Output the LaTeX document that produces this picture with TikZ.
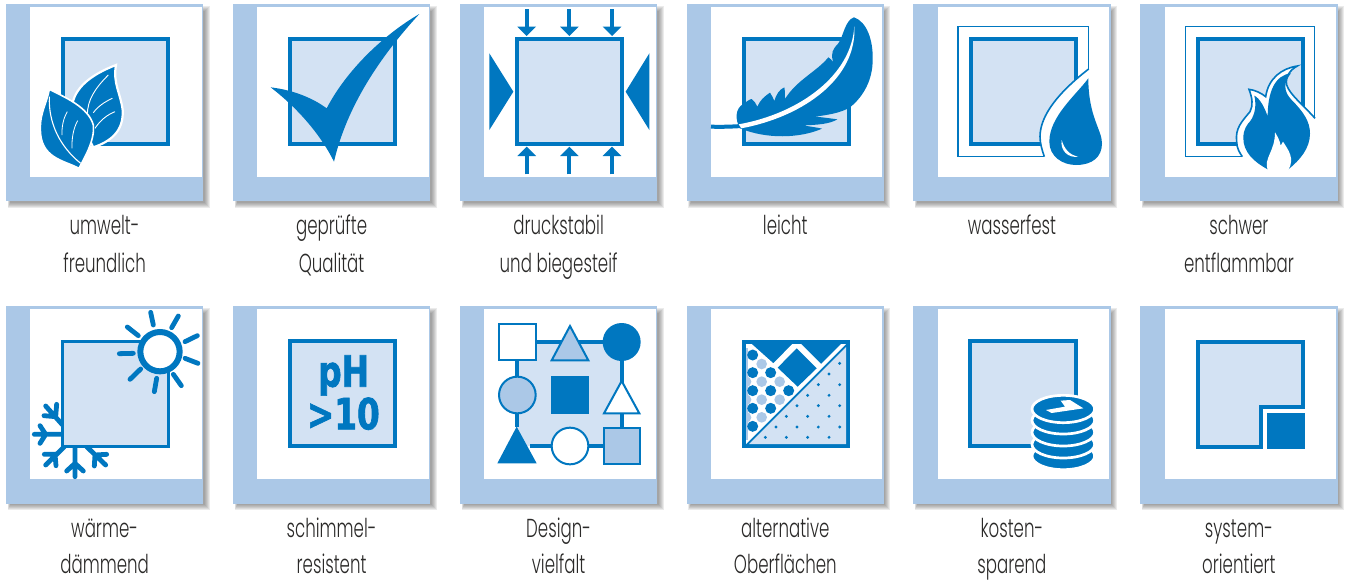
\documentclass[tikz,border=0pt]{standalone}
\usepackage{fontspec}
\newfontfamily\labfont[FakeStretch=0.64]{Poppins Light}
\newfontfamily\phfont[FakeStretch=0.76,FakeBold=1.6]{DejaVu Sans Bold}
\definecolor{ibl}{HTML}{0077C0}
\definecolor{lbl}{HTML}{D3E2F3}
\definecolor{mbl}{HTML}{ABC8E7}
\definecolor{txt}{HTML}{2B2A29}
\tikzset{
  crop/.style 2 args={shift={(#1,#2)},x=0.33333pt,y=-0.33333pt},
  lab/.style={font=\labfont\fontsize{26}{37.5}\selectfont,text=txt,inner sep=0pt,align=center,anchor=north},
  labb/.style={lab,font=\labfont\fontsize{26}{36}\selectfont},
  sqbox/.style={draw=ibl,fill=lbl,line width=4pt},
  ic/.style={fill=ibl,draw=none},
  wh/.style={fill=white,draw=none},
  ln/.style={draw=ibl,line width=#1},
  ray/.style={draw=ibl,line width=4.8pt,line cap=round},
  flake/.style={draw=ibl,line width=4.8pt,line cap=round},
}
\newcommand{\panelframe}[2]{%
  \foreach \s in {0,1,2,3,4,5}{
    \fill[black!70,opacity=0.11] (#1+4-\s*0.5,#2+7-\s) rectangle (#1+198.5+\s,#2+198.5+\s);
  }
  \fill[mbl] (#1,#2) rectangle (#1+197.3,#2+197.3);
  \fill[white] (#1+24.3,#2+2.5) rectangle (#1+195.6,#2+173);
}
\newcommand{\stdsq}[2]{\draw[sqbox] (#1+57,#2+35) rectangle (#1+162.4,#2+140);}
\newcommand{\lbl}[5]{\node[lab] (#1) at (#2+98.6,#3+210.5) {\rule{0pt}{20pt}#4\\#5};}
\newcommand{\lblb}[5]{\node[labb] (#1) at (#2+98.6,#3+211) {\rule{0pt}{20pt}#4\\#5};}
\begin{document}
\begin{tikzpicture}[x=1pt,y=-1pt]
\useasboundingbox (0,0) rectangle (1346,579);
\def\ra{4}\def\rb{306.3}
\def\xa{6}\def\xb{233}\def\xc{460}\def\xd{686.7}\def\xe{913.3}\def\xf{1140.3}
\foreach \px in {\xa,\xb,\xc,\xd,\xe,\xf}{\foreach \py in {\ra,\rb}{\panelframe{\px}{\py}}}
% labels
\lbl{l1}{\xa}{\ra}{umwelt-}{freundlich}
\lbl{l2}{\xb}{\ra}{geprüfte}{Qualität}
\lbl{l3}{\xc}{\ra}{druckstabil}{und biegesteif}
\lbl{l4}{\xd}{\ra}{leicht}{}
\lbl{l5}{\xe}{\ra}{wasserfest}{}
\lbl{l6}{\xf}{\ra}{schwer}{entflammbar}
\lblb{l7}{\xa}{\rb}{wärme-}{dämmend}
\lblb{l8}{\xb}{\rb}{schimmel-}{resistent}
\lblb{l9}{\xc}{\rb}{Design-}{vielfalt}
\lblb{l10}{\xd}{\rb}{alternative}{Oberflächen}
\lblb{l11}{\xe}{\rb}{kosten-}{sparend}
\lblb{l12}{\xf}{\rb}{system-}{orientiert}
% 1 leaves
\stdsq{\xa}{\ra}
\begin{scope}[crop={0}{0}]
\path[ic,draw=white,line width=2.2pt] (348,195) .. controls (270,225) and (222,265) .. (216,320) -- (280,442) .. controls (330,425) and (372,395) .. (368,330) .. controls (362,280) and (338,250) .. (348,195) -- cycle;
\draw[white,line width=0.9pt] (325,225) .. controls (285,265) and (262,300) .. (262,345);
\draw[white,line width=0.9pt] (337,295) .. controls (315,305) and (295,318) .. (280,338);
\draw[white,line width=0.9pt] (345,335) .. controls (320,345) and (300,362) .. (285,385);
\path[ic,draw=white,line width=1.6pt] (148,268) .. controls (190,290) and (265,320) .. (280,375) .. controls (285,420) and (255,470) .. (237,505) .. controls (190,480) and (120,475) .. (121,385) .. controls (120,340) and (140,310) .. (148,268) -- cycle;
\draw[white,line width=1.1pt] (148,290) .. controls (145,370) and (180,440) .. (242,490);
\draw[white,line width=0.8pt] (202,335) .. controls (190,355) and (185,380) .. (186,405);
\draw[white,line width=0.8pt] (233,362) .. controls (220,385) and (215,415) .. (216,445);
\end{scope}
% 2 check
\stdsq{\xb}{\ra}
\begin{scope}[crop={0}{0}]
\path[ic] (812,262) .. controls (880,270) and (940,295) .. (980,325) .. controls (1040,210) and (1150,105) .. (1258,42) .. controls (1140,170) and (1040,320) .. (1002,485) .. controls (965,410) and (900,330) .. (812,262) -- cycle;
\end{scope}
% 3 pressure
\stdsq{\xc}{\ra}
\begin{scope}[crop={450}{0}]
\foreach \ax in {230,358,486}{
  \draw[ln=4pt] (\ax,27) -- (\ax,85);
  \path[ic] (\ax-28,80) -- (\ax+28,80) -- (\ax,108) -- cycle;
  \draw[ln=4pt] (\ax,523) -- (\ax,465);
  \path[ic] (\ax-28,468) -- (\ax+28,468) -- (\ax,440) -- cycle;
}
\path[ic] (118,160) -- (118,390) -- (190,275) -- cycle;
\path[ic] (598,160) -- (598,390) -- (527,275) -- cycle;
\end{scope}
% 4 feather
\stdsq{\xd}{\ra}
\begin{scope}[crop={450}{0}]
\draw[ln=4pt] (783,380) .. controls (815,381) and (845,380) .. (875,378);
\path[ic] (870,385) .. controls (855,360) and (855,325) .. (880,312) .. controls (890,305) and (898,298) .. (905,297) .. controls (912,302) and (918,310) .. (922,320) .. controls (930,300) and (945,288) .. (960,278) .. controls (965,285) and (970,295) .. (973,303) .. controls (978,285) and (988,268) .. (1003,262) .. controls (1005,272) and (1005,285) .. (1005,297) .. controls (1040,240) and (1100,215) .. (1135,172) .. controls (1140,175) and (1145,180) .. (1150,186) .. controls (1140,160) and (1150,145) .. (1165,130) .. controls (1180,110) and (1185,60) .. (1212,52) .. controls (1250,65) and (1270,120) .. (1268,180) .. controls (1268,240) and (1240,290) .. (1200,322) .. controls (1170,340) and (1130,345) .. (1095,350) .. controls (1120,352) and (1140,355) .. (1162,358) .. controls (1140,372) and (1100,375) .. (1060,376) .. controls (1080,380) and (1100,382) .. (1116,386) .. controls (1050,415) and (950,418) .. (870,385) -- cycle;
\path[wh] (866,373) .. controls (1050,340) and (1205,225) .. (1213,78) .. controls (1222,235) and (1060,350) .. (874,385) -- cycle;
\end{scope}
% 5 water
\begin{scope}[crop={896}{0}]
\draw[ln=1.6pt] (186,79) rectangle (577,469);
\draw[sqbox] (224,117) rectangle (539,432);
\path[wh] (578,207) .. controls (490,275) and (432,345) .. (432,410) .. controls (432,430) and (438,450) .. (445,472) -- (445,500) -- (625,510) -- (625,207) -- cycle;
\draw[ln=1.6pt] (578,207) .. controls (490,275) and (432,345) .. (432,410) .. controls (432,430) and (438,450) .. (445,470);
\path[ic] (577,235) .. controls (540,285) and (460,350) .. (460,425) .. controls (460,470) and (500,495) .. (540,495) .. controls (590,495) and (618,470) .. (618,430) .. controls (618,390) and (577,350) .. (577,235) -- cycle;
\path[wh] (497,420) .. controls (492,450) and (515,475) .. (547,470) .. controls (520,465) and (505,447) .. (497,420) -- cycle;
\end{scope}
% 6 fire
\begin{scope}[crop={896}{0}]
\draw[ln=1.6pt] (868,79) rectangle (1256,469);
\draw[sqbox] (905,117) rectangle (1220,432);
\end{scope}
\begin{scope}[crop={1225}{55}]
\path[wh] (270,190) .. controls (235,150) and (195,120) .. (185,90) .. controls (180,65) and (195,45) .. (217,33) .. controls (170,40) and (130,70) .. (122,125) .. controls (110,115) and (90,105) .. (72,103) .. controls (82,130) and (85,150) .. (75,170) .. controls (50,200) and (30,220) .. (35,260) .. controls (35,280) and (45,295) .. (52,305) -- (60,350) -- (270,350) -- cycle;
\draw[ln=1.6pt] (270,190) .. controls (235,150) and (195,120) .. (185,90) .. controls (180,65) and (195,45) .. (217,33) .. controls (170,40) and (130,70) .. (122,125) .. controls (110,115) and (90,105) .. (72,103) .. controls (82,130) and (85,150) .. (75,170) .. controls (50,200) and (30,220) .. (35,260) .. controls (35,280) and (45,295) .. (52,305);
\path[ic] (198,55) .. controls (150,60) and (128,110) .. (128,185) .. controls (120,160) and (105,130) .. (88,122) .. controls (97,160) and (85,190) .. (70,205) .. controls (55,225) and (55,240) .. (55,250) .. controls (55,290) and (85,320) .. (128,343) -- (190,343) .. controls (225,315) and (255,280) .. (255,235) .. controls (255,200) and (235,170) .. (200,135) .. controls (175,110) and (175,80) .. (198,55) -- cycle;
\path[wh] (128,345) .. controls (115,310) and (150,290) .. (150,232) .. controls (158,245) and (165,258) .. (167,272) .. controls (170,268) and (172,265) .. (174,260) .. controls (190,285) and (210,310) .. (190,345) -- cycle;
\end{scope}
% 7 thermal: snowflake first, so that its arms end at the square's edge
\begin{scope}[crop={25}{395}]
\draw[flake] (113,90) -- (62,33) (92,65) -- (95,28) (92,65) -- (57,62);
\draw[flake] (113,118) -- (28,118) (62,118) -- (45,92) (62,118) -- (45,145);
\draw[flake] (118,155) -- (62,210) (90,178) -- (58,178) (90,178) -- (93,212);
\draw[flake] (150,155) -- (150,245) (150,205) -- (125,228) (150,205) -- (175,228);
\draw[flake] (185,155) -- (242,210) (210,180) -- (245,178) (210,180) -- (208,213);
\end{scope}
\begin{scope}[crop={0}{295}]
\draw[draw=ibl,fill=lbl,line width=3.3pt] (188,140) rectangle (505,455);
\draw[ibl,fill=white,line width=6pt] (480,170) circle (59);
\draw[ray] (452,52) -- (460,90);
\draw[ray] (535,63) -- (515,98);
\draw[ray] (555,140) -- (592,122);
\draw[ray] (555,190) -- (594,205);
\draw[ray] (520,238) -- (544,272);
\draw[ray] (470,250) -- (463,290);
\draw[ray] (422,222) -- (390,253);
\draw[ray] (400,175) -- (358,176);
\draw[ray] (415,122) -- (382,96);
\end{scope}
% 8 pH
\stdsq{\xb}{\rb}
\begin{scope}[crop={0}{295}]
\node[text=ibl,font=\phfont\fontsize{43}{43}\selectfont,inner sep=0pt,anchor=base] (ph) at (1031,275) {pH};
\node[text=ibl,font=\phfont\fontsize{43}{43}\selectfont,inner sep=0pt,anchor=base] (ten) at (1030,403) {>10};
\end{scope}
% 9 design
\begin{scope}[crop={450}{295}]
\path[fill=lbl] (202,140) rectangle (515,453);
\draw[ln=4pt] (257,140) -- (460,140) (202,196) -- (202,395) (240,453) -- (460,453) (515,196) -- (515,399);
\draw[ln=2pt,fill=white] (148,88) rectangle (257,196);
\draw[ln=2pt,fill=mbl,line join=miter] (360,93) -- (415,196) -- (305,196) -- cycle;
\path[ic] (515,141) circle (57);
\draw[ln=2pt,fill=mbl] (202,300) circle (55);
\path[ic] (303,243) rectangle (417,358);
\draw[ln=2pt,fill=white,line join=miter] (515,258) -- (568,355) -- (462,355) -- cycle;
\path[ic] (200,395) -- (260,505) -- (142,505) -- cycle;
\draw[ln=2pt,fill=white] (360,453) circle (55);
\draw[ln=2pt,fill=mbl] (461,399) rectangle (571,508);
\end{scope}
% 10 surfaces
\begin{scope}[crop={735}{335}]
\path[ic] (20,14) rectangle (346,340);
\path[wh] (33,27) -- (50,27) -- (115,85) -- (172,27) -- (198,27) -- (258,87) -- (318,27) -- (333,27) -- (33,327) -- cycle;
\path[ic] (185,40) -- (245,100) -- (188,155) -- (128,98) -- cycle;
\begin{scope}
\clip (33,27) -- (333,27) -- (33,327) -- cycle;
\path[fill=mbl] (33,40) rectangle (40,316);
\foreach \a/\b in {80/87,80/140,134/140,80/194,134/194,80/247,33/140,33/194,33/247}{\path[fill=mbl] (\a,\b) circle (16);}
\foreach \a/\b in {53/60,53/113,107/113,53/167,107/167,161/167,53/220,107/220,53/274}{\path[ic] (\a,\b) circle (16.5);}
\end{scope}
\path[fill=lbl] (333,36) -- (333,327) -- (42,327) -- cycle;
\foreach \a/\b in {314/85,282/117,314/149,250/149,218/181,282/181,186/212,250/212,314/212,154/244,218/244,282/244,123/276,186/276,250/276,314/276,91/307,154/307,218/307,282/307}{\path[ic] (\a,\b) circle (4.8);}
\end{scope}
% 11 coins
\stdsq{\xe}{\rb}
\begin{scope}[crop={1020}{385}]
\foreach \cy in {213,178,142,106,72}{
  \draw[white,fill=ibl,line width=2.7pt] (130,\cy) ellipse [x radius=94,y radius=41];
}
\path[wh] (78,75) -- (135,65) -- (122,47) -- (150,45) -- (190,70) -- (95,84) -- cycle;
\end{scope}
% 12 system
\begin{scope}[crop={896}{295}]
\draw[sqbox] (905,140) -- (1220,140) -- (1220,335) -- (1094,335) -- (1094,455) -- (905,455) -- cycle;
\path[ic] (1113,354) rectangle (1227,462);
\end{scope}
\end{tikzpicture}
\end{document}
